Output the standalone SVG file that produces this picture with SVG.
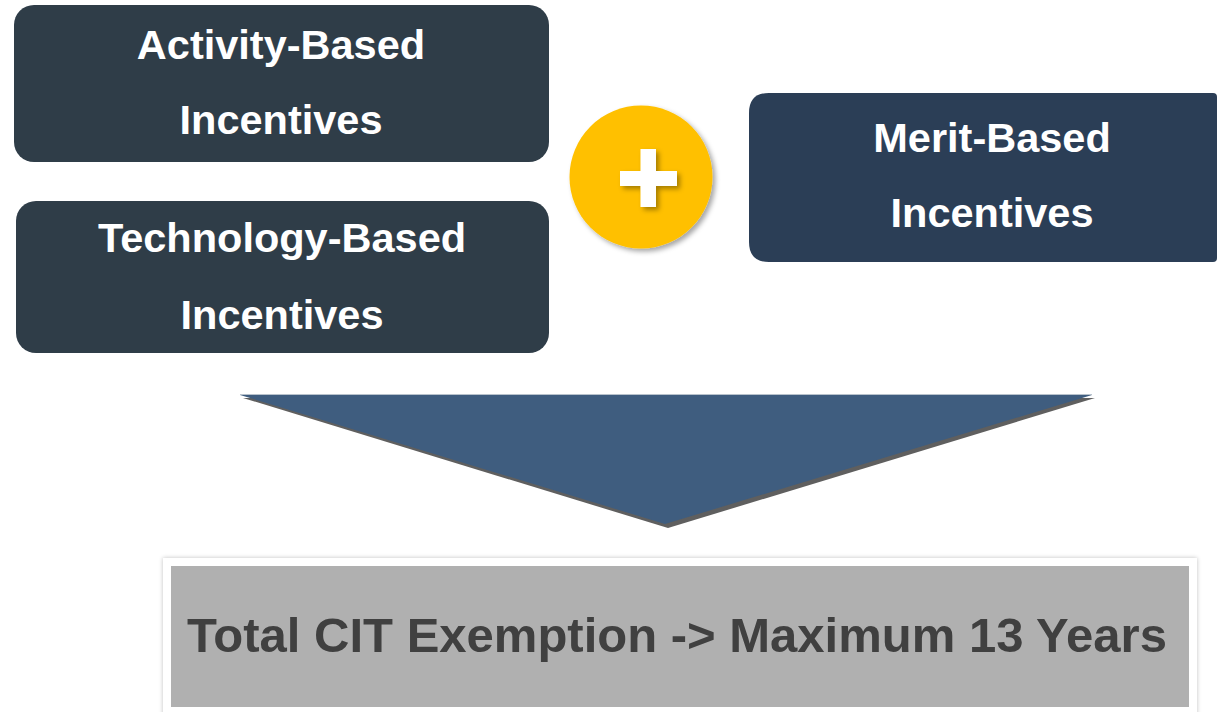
<svg xmlns="http://www.w3.org/2000/svg" width="1217" height="712" viewBox="0 0 1217 712">
  <defs>
    <filter id="softShadow" x="-20%" y="-20%" width="150%" height="150%">
      <feGaussianBlur in="SourceAlpha" stdDeviation="2.5"/>
      <feOffset dx="3" dy="3" result="b"/>
      <feFlood flood-color="#000" flood-opacity="0.35"/>
      <feComposite in2="b" operator="in"/>
      <feMerge><feMergeNode/><feMergeNode in="SourceGraphic"/></feMerge>
    </filter>
    <filter id="frameShadow" x="-5%" y="-10%" width="110%" height="120%">
      <feGaussianBlur in="SourceAlpha" stdDeviation="2"/>
      <feOffset dx="0" dy="0" result="b"/>
      <feFlood flood-color="#000" flood-opacity="0.25"/>
      <feComposite in2="b" operator="in"/>
      <feMerge><feMergeNode/><feMergeNode in="SourceGraphic"/></feMerge>
    </filter>
  </defs>
  <style>
    .box { fill: #2f3d48; }
    .merit { fill: #2b3e56; }
    .label { font-family: "Liberation Sans", Arial, sans-serif; font-weight: bold; font-size: 41.5px; fill: #ffffff; text-anchor: middle; }
    .total { font-family: "Liberation Sans", Arial, sans-serif; font-weight: bold; font-size: 49px; fill: #404040; text-anchor: middle; }
  </style>
  <rect width="1217" height="712" fill="#ffffff"/>

  <g id="activity">
    <rect class="box" x="14" y="5" width="535" height="157" rx="20"/>
    <text class="label" x="281" y="59">Activity-Based</text>
    <text class="label" x="281" y="134">Incentives</text>
  </g>

  <g id="technology">
    <rect class="box" x="16" y="201" width="533" height="152" rx="20"/>
    <text class="label" x="282" y="252">Technology-Based</text>
    <text class="label" x="282" y="329">Incentives</text>
  </g>

  <g id="plus">
    <circle cx="641" cy="177" r="71.5" fill="#ffc000" filter="url(#softShadow)"/>
    <g filter="url(#softShadow)" fill="#ffffff">
      <rect x="620" y="171" width="57" height="15"/>
      <rect x="640.5" y="149" width="15.5" height="58"/>
    </g>
  </g>

  <g id="merit">
    <path class="merit" d="M769 93 H1213 Q1217 93 1217 97 V258 Q1217 262 1213 262 H769 Q749 262 749 242 V113 Q749 93 769 93 Z"/>
    <text class="label" x="992" y="152">Merit-Based</text>
    <text class="label" x="992" y="227">Incentives</text>
  </g>

  <g id="connectors">
    <polygon points="243,398 1095,398 668,528" fill="#5f5f5f"/>
    <polygon points="240,395 1092,395 665,524" fill="#3f5d7f"/>
    <line x1="240" y1="394.5" x2="1092" y2="394.5" stroke="#b8c2cc" stroke-width="1"/>
  </g>

  <g id="total">
    <rect x="163" y="558" width="1034" height="160" fill="#ffffff" filter="url(#frameShadow)"/>
    <rect x="171" y="566" width="1018" height="141" fill="#b0b0b0"/>
    <text class="total" x="677" y="652">Total CIT Exemption -&gt; Maximum 13 Years</text>
  </g>
</svg>
